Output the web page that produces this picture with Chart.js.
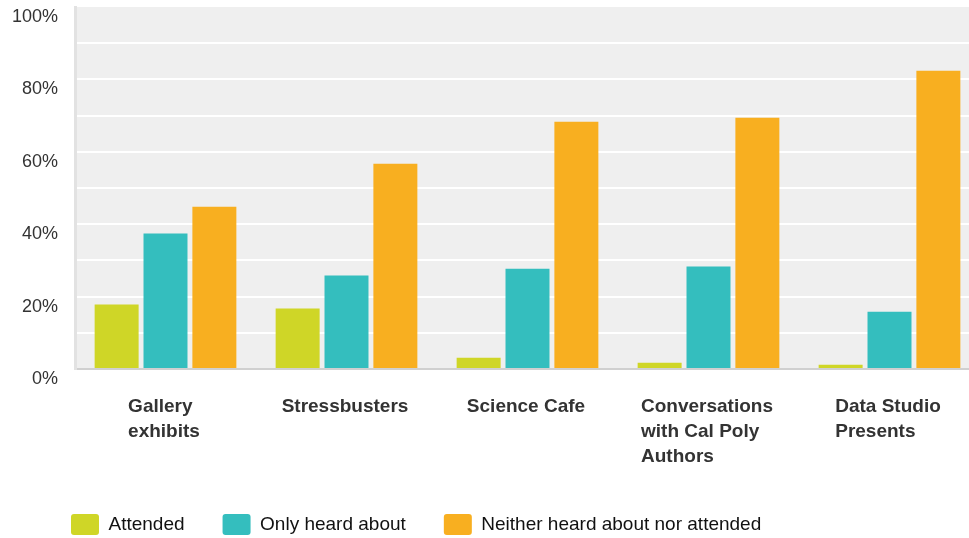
<!DOCTYPE html>
<html><head><meta charset="utf-8">
<script src="https://cdn.jsdelivr.net/npm/chart.js@4"></script>
<style>html,body{margin:0;padding:0;background:#fff;overflow:hidden;width:969px;height:538px}canvas{display:block}</style>
</head><body><canvas id="c" width="980" height="538"></canvas>
<script>
const categories = [["Gallery","exhibits"],["Stressbusters"],["Science Cafe"],["Conversations","with Cal Poly","Authors"],["Data Studio","Presents"]];
const seriesNames = ["Attended","Only heard about","Neither heard about nor attended"];
const attended = [17.8, 16.7, 3.1, 1.7, 1.2];
const onlyHeard = [37.4, 25.8, 27.7, 28.3, 15.8];
const neither = [44.8, 56.7, 68.3, 69.4, 82.4];
const yTickLabels = ["0%","20%","40%","60%","80%","100%"];
const colors = ["#cfd627", "#34bebe", "#f8af20"];

const FONT = '"Liberation Sans", Arial, Helvetica, sans-serif';
const LEGEND_H = 62;
const LEGEND_SHIFT = 33;

const plotBg = {
  id: 'plotBg',
  beforeDraw(chart) {
    const {ctx, chartArea: a} = chart;
    ctx.save();
    ctx.fillStyle = '#efefef';
    ctx.fillRect(a.left, a.top, a.right - a.left, a.bottom - a.top);
    ctx.restore();
  }
};
const legendFix = {
  id: 'legendFix',
  afterInit(chart) {
    const lg = chart.legend;
    const orig = lg.fit;
    lg.fit = function() { orig.call(this); this.height = LEGEND_H; };
  },
  afterLayout(chart) {
    chart.legend.left += LEGEND_SHIFT;
  }
};
const xLabels = {
  id: 'xLabels',
  afterDraw(chart) {
    const {ctx, chartArea, scales: {x}} = chart;
    ctx.save();
    ctx.font = 'bold 19px ' + FONT;
    ctx.fillStyle = '#333333';
    ctx.textAlign = 'left';
    ctx.textBaseline = 'alphabetic';
    categories.forEach((lines, i) => {
      const cx = x.getPixelForValue(i);
      const w = Math.max(...lines.map(l => ctx.measureText(l).width));
      const left = cx - w / 2 - 1.5;
      lines.forEach((l, j) => ctx.fillText(l, left, chartArea.bottom + 42.5 + j * 25));
    });
    ctx.restore();
  }
};

new Chart(document.getElementById('c'), {
  type: 'bar',
  data: {
    labels: categories.map(c => c.join(' ')),
    datasets: [
      {label: seriesNames[0], data: attended, backgroundColor: colors[0]},
      {label: seriesNames[1], data: onlyHeard, backgroundColor: colors[1]},
      {label: seriesNames[2], data: neither, backgroundColor: colors[2]}
    ]
  },
  options: {
    responsive: false,
    devicePixelRatio: 1,
    animation: false,
    categoryPercentage: 0.81,
    barPercentage: 0.9,
    borderWidth: 0,
    layout: {padding: {top: 7, left: 0, right: 0, bottom: 0}},
    plugins: {
      tooltip: {enabled: false},
      legend: {
        position: 'bottom',
        align: 'start',
        labels: {
          boxWidth: 28, boxHeight: 21, useBorderRadius: true, borderRadius: 3,
          padding: 38, color: '#111111',
          font: {size: 19, family: FONT}
        }
      }
    },
    scales: {
      x: {
        grid: {display: false},
        border: {display: true, color: '#d0d0d0', width: 2},
        ticks: {display: false},
        afterFit(s) { s.height = 107; }
      },
      y: {
        min: 0, max: 100,
        grid: {
          drawTicks: true,
          tickLength: 17,
          lineWidth: 2,
          color: (c) => (c.tick && (c.tick.value === 0 || c.tick.value === 100)) ? 'rgba(0,0,0,0)' : '#ffffff'
        },
        border: {display: true, color: '#e2e2e2', width: 3},
        ticks: {
          stepSize: 10,
          padding: 0,
          labelOffset: 10,
          color: '#333333',
          font: {size: 18, family: FONT, lineHeight: 0.6},
          callback: (v) => (v % 20 === 0) ? yTickLabels[v / 20] : ''
        },
        afterFit(s) { s.width = 75; }
      }
    }
  },
  plugins: [plotBg, legendFix, xLabels]
});
</script>
</body></html>
